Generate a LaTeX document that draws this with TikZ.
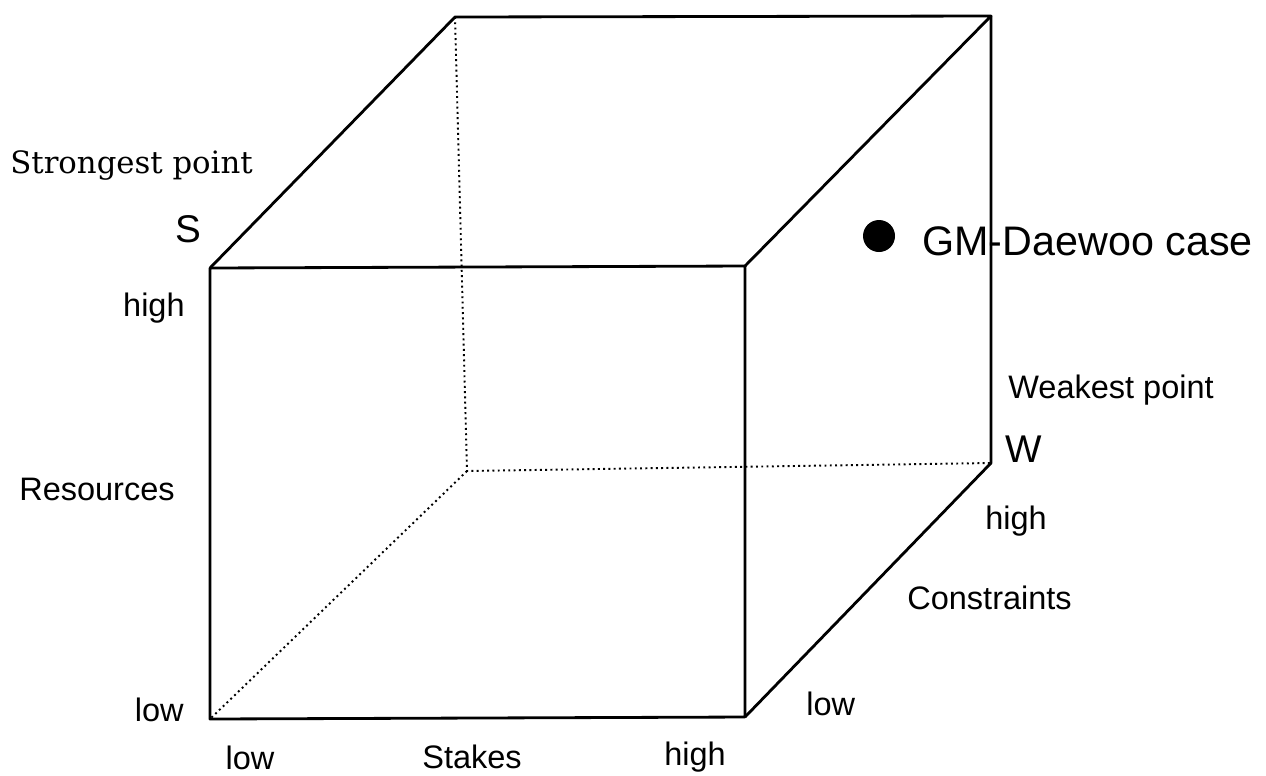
\documentclass[tikz,border=0pt]{standalone}
\usepackage{fontspec}
\setmainfont{Liberation Sans}
\newfontfamily\serifface{DejaVu Serif}

\begin{document}
\begin{tikzpicture}[x=0.02cm,y=-0.02cm,
	edge/.style={line width=1.6pt,line join=round},
	hidden/.style={line width=1.1pt,dash pattern=on 1.1pt off 1.9pt},
	lbl/.style={font=\fontsize{18.5}{20}\selectfont,inner sep=0pt},
	corner/.style={font=\fontsize{22}{24}\selectfont,inner sep=0pt}]
	\useasboundingbox (0,0) rectangle (1266,775);
	% front face
	\coordinate (F1) at (210,268);
	\coordinate (F2) at (745,266);
	\coordinate (F3) at (745,717);
	\coordinate (F4) at (210,719);
	% back face
	\coordinate (B1) at (455,17);
	\coordinate (B2) at (991,16);
	\coordinate (B3) at (991,463);
	\coordinate (B4) at (467,471);
	\draw[hidden] (B1) -- (B4) -- (B3);
	\draw[hidden] (B4) -- (F4);
	\draw[edge] (F1) -- (F2) -- (F3) -- (F4) -- cycle;
	\draw[edge] (F1) -- (B1) -- (B2) -- (F2);
	\draw[edge] (B2) -- (B3) -- (F3);
	% labels
	\node[anchor=base west,inner sep=0pt,font=\serifface\fontsize{17.5}{20}\selectfont] (strong) at (10,173) {Strongest point};
	\node[corner,anchor=base] (S) at (188,242) {S};
	\node[lbl,anchor=base east] (resHigh) at (185,316) {high};
	\node[lbl,anchor=base east] (res) at (175,500) {Resources};
	\node[lbl,anchor=base east] (resLow) at (184,721) {low};
	\node[lbl,anchor=base] (stkLow) at (250,769) {low};
	\node[lbl,anchor=base] (stk) at (472,768) {Stakes};
	\node[lbl,anchor=base] (stkHigh) at (695,765) {high};
	\node[lbl,anchor=base west] (conLow) at (806,715) {low};
	\node[lbl,anchor=base west] (con) at (907,609) {Constraints};
	\node[lbl,anchor=base west] (conHigh) at (985,529) {high};
	\node[lbl,anchor=base west] (weak) at (1008,398) {Weakest point};
	\node[corner,anchor=base west] (W) at (1005,462) {W};
	\fill (879,236) circle (16) coordinate (gm);
	\node[anchor=base west,inner sep=0pt,font=\fontsize{23.5}{26}\selectfont] (gmLabel) at (922,255) {GM-Daewoo case};
\end{tikzpicture}
\end{document}
